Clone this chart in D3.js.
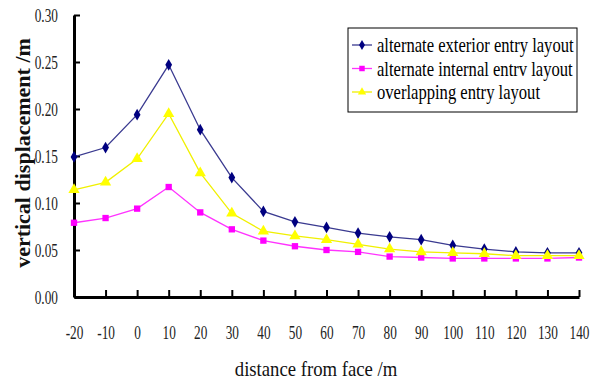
<!DOCTYPE html>
<html>
<head>
<meta charset="utf-8">
<script src="https://cdn.jsdelivr.net/npm/d3@7"></script>
<style>
  html, body { margin: 0; padding: 0; background: #fff; }
  svg text { font-family: "Liberation Serif", "Times New Roman", "DejaVu Serif", serif; }
</style>
</head>
<body>
<svg id="chart" width="597" height="382"></svg>
<script>
// distance from face (m)
const distances = [-20, -10, 0, 10, 20, 30, 40, 50, 60, 70, 80, 90, 100, 110, 120, 130, 140];

// vertical displacement (m)
const exteriorValues = [0.149, 0.159, 0.194, 0.247, 0.178, 0.127, 0.091, 0.080, 0.074, 0.068, 0.064, 0.061, 0.055, 0.051, 0.048, 0.047, 0.047];
const internalValues = [0.079, 0.084, 0.094, 0.117, 0.090, 0.072, 0.060, 0.054, 0.050, 0.048, 0.043, 0.042, 0.041, 0.041, 0.041, 0.041, 0.042];
const overlapValues  = [0.114, 0.122, 0.147, 0.195, 0.132, 0.089, 0.070, 0.065, 0.061, 0.056, 0.051, 0.048, 0.047, 0.046, 0.044, 0.044, 0.044];

const yTicks = [0, 0.05, 0.10, 0.15, 0.20, 0.25, 0.30];

const series = [
  { name: 'alternate exterior entry layout', values: exteriorValues, color: '#000080', line: '#3a3a90', marker: 'diamond' },
  { name: 'alternate internal entrv layout', values: internalValues, color: '#ff00ff', line: '#ff33ff', marker: 'square' },
  { name: 'overlapping entry layout', values: overlapValues, color: '#ffff00', line: '#f0f000', marker: 'triangle' },
];

const svg = d3.select('#chart');
const margin = { top: 15, right: 18, bottom: 85, left: 74 };
const width = 597 - margin.left - margin.right;
const height = 382 - margin.top - margin.bottom;

const g = svg.append('g').attr('transform', `translate(${margin.left},${margin.top})`);

const x = d3.scaleLinear().domain([-20, 140]).range([0, width]);
const y = d3.scaleLinear().domain([0, 0.30]).range([height, 0]);

// axes
const yAxis = g.append('g')
  .call(d3.axisLeft(y).tickValues(yTicks).tickFormat(d3.format('.2f')).tickSizeInner(-6).tickSizeOuter(0).tickPadding(23));
const xAxis = g.append('g')
  .attr('transform', `translate(0,${height})`)
  .call(d3.axisBottom(x).tickValues(distances).tickFormat(d => String(d)).tickSizeInner(-7).tickSizeOuter(0).tickPadding(29));

[yAxis, xAxis].forEach(a => {
  a.attr('font-family', null);
  a.select('.domain').attr('stroke', '#000').attr('stroke-width', 3);
  a.selectAll('.tick line').attr('stroke', '#000').attr('stroke-width', 2);
  a.selectAll('.tick text').attr('fill', '#222').attr('font-size', 19)
    .attr('transform', 'scale(0.7,1)');
});

const symbols = {
  diamond: d3.symbol().type(d3.symbolDiamond).size(40),
  square: d3.symbol().type(d3.symbolSquare).size(40),
  triangle: d3.symbol().type(d3.symbolTriangle).size(55),
};

const line = d3.line().x((d, i) => x(distances[i])).y(d => y(d));

series.forEach(s => {
  g.append('path')
    .datum(s.values)
    .attr('fill', 'none')
    .attr('stroke', s.line)
    .attr('stroke-width', 1.3)
    .attr('d', line);

  g.selectAll(null)
    .data(s.values)
    .join('path')
    .attr('transform', (d, i) => `translate(${x(distances[i])},${y(d)})`)
    .attr('d', symbols[s.marker])
    .attr('fill', s.color);
});

// legend
const legend = svg.append('g').attr('transform', 'translate(348,28)');
legend.append('rect')
  .attr('width', 229).attr('height', 84)
  .attr('fill', '#fff').attr('stroke', '#000').attr('stroke-width', 1);
series.forEach((s, i) => {
  const ly = 17 + i * 23.5;
  legend.append('line')
    .attr('x1', 4).attr('x2', 24).attr('y1', ly).attr('y2', ly)
    .attr('stroke', s.line).attr('stroke-width', 1.3);
  legend.append('path')
    .attr('transform', `translate(14,${ly})`)
    .attr('d', symbols[s.marker].size(30)())
    .attr('fill', s.color);
  legend.append('text')
    .attr('transform', `translate(29,${ly}) scale(0.83,1)`)
    .attr('dy', '0.35em')
    .attr('font-size', 20).attr('fill', '#000')
    .text(s.name);
});

// axis titles
svg.append('text')
  .attr('transform', 'translate(316,376) scale(0.85,1)')
  .attr('text-anchor', 'middle')
  .attr('font-size', 22).attr('fill', '#111')
  .text('distance from face /m');

svg.append('text')
  .attr('transform', 'translate(22,153) rotate(-90)')
  .attr('text-anchor', 'middle').attr('dy', '0.35em')
  .attr('font-size', 22).attr('font-weight', 'bold').attr('fill', '#111')
  .text('vertical displacement /m');
</script>
</body>
</html>
